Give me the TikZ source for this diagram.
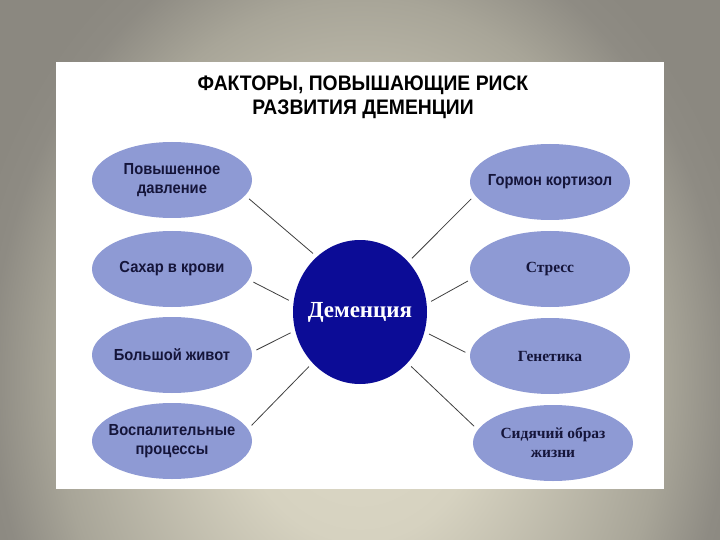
\documentclass[tikz,border=0pt]{standalone}
\usepackage{fontspec}
\setmainfont{Liberation Serif}
\newfontfamily\headfont[FakeStretch=0.92]{Liberation Sans}
\newfontfamily\narrowfont[FakeStretch=0.92]{Liberation Sans}
\usetikzlibrary{shapes}

\definecolor{factorblue}{HTML}{8E9AD4}
\definecolor{coreblue}{HTML}{0C0C96}
\definecolor{ink}{HTML}{15153A}
\definecolor{bgout}{RGB}{139,136,128}
\pgfdeclareradialshading{slidebg}{\pgfpoint{0bp}{0bp}}{%
  color(0bp)=(rgb,255:red,221;green,217;blue,199);
  color(16bp)=(rgb,255:red,214;green,210;blue,192);
  color(38bp)=(rgb,255:red,168;green,165;blue,152);
  color(46bp)=(rgb,255:red,142;green,139;blue,131);
  color(50bp)=(rgb,255:red,139;green,136;blue,128)}

\begin{document}
\begin{tikzpicture}[x=1pt, y=-1pt,
  factor/.style={ellipse, fill=factorblue, minimum width=160pt, minimum height=76pt, inner xsep=-30pt, inner ysep=-10pt, align=center, text=ink},
  sansfactor/.style={factor, font=\narrowfont\bfseries\fontsize{16}{19}\selectfont},
  seriffactor/.style={factor, font=\bfseries\fontsize{15.5}{19}\selectfont},
  link/.style={draw=black!75, line width=0.8pt, shorten <=5pt, shorten >=5pt}]

\useasboundingbox (0,0) rectangle (720,540);
\begin{scope}
\clip (0,0) rectangle (720,540);
\fill[bgout] (0,0) rectangle (720,540);
\begin{scope}[shift={(360,380)}]
\pgftransformxscale{8}\pgftransformyscale{10}
\pgftext{\pgfuseshading{slidebg}}
\end{scope}
\end{scope}
\fill[white] (56,62) rectangle (664,489);

\node[font=\headfont\bfseries\fontsize{21}{24}\selectfont, align=center] (title) at (363,97) {ФАКТОРЫ, ПОВЫШАЮЩИЕ РИСК\\РАЗВИТИЯ ДЕМЕНЦИИ};

\node[ellipse, fill=coreblue, minimum width=134pt, minimum height=144pt, inner xsep=-20pt, text=white, font=\bfseries\fontsize{23}{26}\selectfont] (dem) at (360,312) {Деменция};

% left side
\node[sansfactor] (l1) at (172,180) {Повышенное\\давление};
\node[sansfactor] (l2) at (172,269) {Сахар в крови};
\node[sansfactor] (l3) at (172,355) {Большой живот};
\node[sansfactor] (l4) at (172,441) {Воспалительные\\процессы};

% right side
\node[sansfactor] (r1) at (550,182) {Гормон кортизол};
\node[seriffactor] (r2) at (550,269) {Стресс};
\node[seriffactor] (r3) at (550,356) {Генетика};
\node[seriffactor] (r4) at (553,443) {Сидячий образ\\жизни};

\draw[link] (l1.-12) -- (dem.128);
\draw[link] (l2.-8) -- (dem.172);
\draw[link] (l3.2) -- (dem.196);
\draw[link] (l4.9) -- (dem.227);
\draw[link] (r1.190) -- (dem.46);
\draw[link] (r2.187) -- (dem.7);
\draw[link] (r3.179) -- (dem.-17);
\draw[link] (r4.170) -- (dem.-47);

\end{tikzpicture}
\end{document}
